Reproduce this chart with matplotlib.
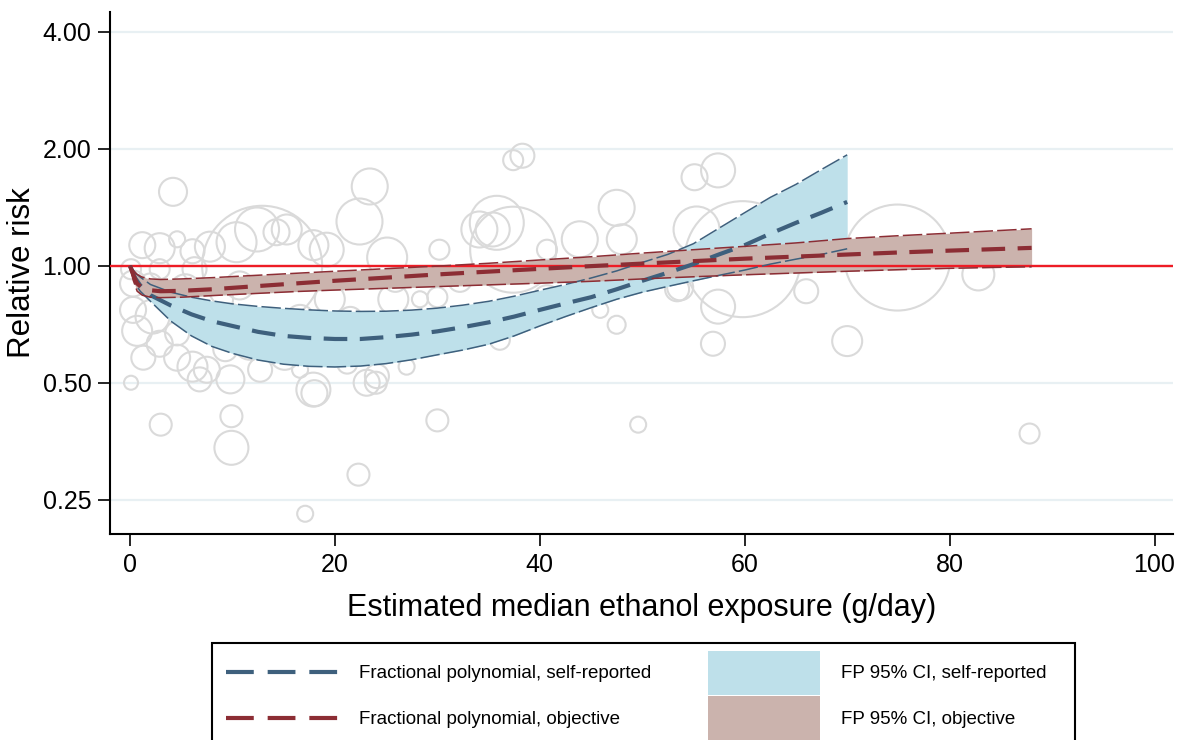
import matplotlib
matplotlib.use("Agg")
import matplotlib.pyplot as plt
from matplotlib.lines import Line2D
from matplotlib.patches import Patch, Rectangle
from matplotlib.legend_handler import HandlerLine2D
import numpy as np

plt.rcParams['font.family'] = ['Liberation Sans', 'DejaVu Sans']
plt.rcParams['lines.scale_dashes'] = False

# ---------------- data ----------------
# study-level relative risks (bubbles): exposure, RR, study weight
study_x = [4.2, 1.2, 2.9, 4.6, 6.1, 7.8, 10.4, 12.4, 14.3, 0.3, 0.3, 0.7, 2.2, 2.9, 4.6,
           6.1, 1.3, 4.6, 0.1, 7.5, 12.9, 15.3, 17.9, 25.1, 23.1, 23.4, 22.4, 19.2, 25.7,
           24.1, 27.0, 30.0, 21.2, 16.6, 17.9, 0.1, 2.0, 5.4, 8.3, 10.7, 9.8, 11.7, 9.3,
           13.7, 15.1, 12.7, 9.8, 6.8, 19.5, 21.5, 16.6, 2.9, 6.3, 19.5, 27.3, 25.9, 28.3,
           3.0, 9.9, 9.9, 22.3, 17.1, 30.0, 49.6, 18.0, 24.0, 87.8,
           37.4, 38.3, 47.5, 48.0, 43.9, 40.7, 35.8, 35.4, 37.4, 53.4, 38.7, 36.1, 47.5,
           34.1, 55.1, 57.4, 55.3, 59.8, 74.9, 70.0, 56.9, 82.8, 66.0, 57.4, 40.7, 45.9,
           32.2, 30.2, 53.7]
study_rr = [1.55, 1.13, 1.11, 1.17, 1.09, 1.12, 1.15, 1.24, 1.22, 0.90, 0.77, 0.68, 0.74, 0.63, 0.58,
            0.55, 0.58, 0.67, 0.50, 0.54, 1.00, 1.24, 1.13, 1.05, 0.50, 1.60, 1.30, 1.10, 0.82,
            0.52, 0.55, 0.83, 0.56, 0.54, 0.48, 0.98, 0.89, 0.87, 0.82, 0.89, 0.73, 0.63, 0.61,
            0.68, 0.59, 0.54, 0.51, 0.51, 0.82, 0.73, 0.73, 0.98, 0.98, 0.64, 0.68, 0.92, 0.82,
            0.39, 0.41, 0.34, 0.29, 0.23, 0.40, 0.39, 0.47, 0.50, 0.37,
            1.87, 1.92, 1.41, 1.17, 1.17, 1.10, 1.29, 1.24, 1.10, 0.87, 0.76, 0.645, 0.705,
            1.24, 1.69, 1.76, 1.24, 1.04, 1.05, 0.64, 0.63, 0.95, 0.86, 0.785, 0.82, 0.77,
            0.92, 1.10, 0.88]
study_weight = [14, 13, 15, 8, 12, 15, 20, 22, 13, 13, 13, 15, 17, 13, 13,
                15, 12, 12, 7, 13, 60, 15, 15, 20, 13, 18, 23, 17, 15,
                12, 8, 10, 10, 8, 17, 10, 12, 15, 18, 14, 15, 16, 12,
                14, 15, 12, 14, 12, 15, 12, 14, 10, 12, 10, 10, 12, 8,
                11, 11, 17, 11, 8, 11, 8, 13, 11, 10,
                10, 12, 18, 15, 18, 10, 27, 17, 43, 12, 12, 10, 9,
                18, 13, 17, 23, 58, 53, 15, 12, 16, 12, 17, 14, 8,
                12, 10, 13]

# fractional polynomial, self-reported exposure
sr_x = [0, 0.5, 1, 2, 4, 6, 8, 10, 12.5, 15, 17.5, 20, 22.5, 25, 27.5, 30, 32.5, 35,
        37.5, 40, 42.5, 45, 47.5, 50, 52.5, 55, 57.5, 60, 62.5, 65, 67.5, 70]
sr_fit = [1.0, 0.93, 0.89, 0.84, 0.79, 0.75, 0.72, 0.70, 0.676, 0.66, 0.652, 0.648, 0.648,
          0.655, 0.665, 0.678, 0.695, 0.715, 0.74, 0.77, 0.80, 0.83, 0.87, 0.915, 0.96,
          1.01, 1.07, 1.13, 1.21, 1.29, 1.37, 1.46]
sr_hi = [1.0, 0.96, 0.935, 0.895, 0.855, 0.83, 0.812, 0.798, 0.786, 0.777, 0.77, 0.765,
         0.763, 0.764, 0.769, 0.778, 0.792, 0.81, 0.835, 0.865, 0.895, 0.93, 0.97, 1.02,
         1.07, 1.14, 1.25, 1.37, 1.50, 1.62, 1.77, 1.93]
sr_lo = [1.0, 0.90, 0.86, 0.81, 0.72, 0.66, 0.62, 0.595, 0.572, 0.558, 0.551, 0.549,
         0.552, 0.56, 0.573, 0.59, 0.607, 0.628, 0.66, 0.70, 0.74, 0.78, 0.82, 0.855,
         0.885, 0.915, 0.945, 0.975, 1.01, 1.04, 1.07, 1.106]

# fractional polynomial, objective exposure
ob_x = [0, 0.3, 0.7, 1.2, 2, 3, 5, 8, 12, 16, 20, 25, 30, 35, 40, 45, 50, 55, 60, 65,
        70, 75, 80, 85, 88]
ob_fit = [1.0, 0.95, 0.90, 0.877, 0.865, 0.86, 0.862, 0.87, 0.885, 0.90, 0.915, 0.932,
          0.95, 0.966, 0.982, 0.998, 1.013, 1.028, 1.043, 1.056, 1.069, 1.082, 1.094,
          1.105, 1.112]
ob_hi = [1.0, 0.975, 0.95, 0.935, 0.925, 0.922, 0.925, 0.932, 0.944, 0.956, 0.968, 0.983,
         0.998, 1.015, 1.035, 1.055, 1.078, 1.10, 1.122, 1.145, 1.175, 1.195, 1.213,
         1.233, 1.245]
ob_lo = [1.0, 0.92, 0.86, 0.84, 0.83, 0.828, 0.83, 0.838, 0.848, 0.858, 0.866, 0.875,
         0.884, 0.893, 0.902, 0.912, 0.925, 0.937, 0.948, 0.958, 0.968, 0.977, 0.985,
         0.991, 0.994]

x_ticks = [0, 20, 40, 60, 80, 100]
y_ticks = [0.25, 0.5, 1.0, 2.0, 4.0]
labels = ["Fractional polynomial, self-reported", "Fractional polynomial, objective",
          "FP 95% CI, self-reported", "FP 95% CI, objective"]

# ---------------- style ----------------
blue = '#3e607d'
blue_fill = '#bee0ea'
red = '#8c2d34'
red_fill = '#cbb3ad'
ref_red = '#ee1c25'
bubble = '#dadada'
grid = '#e8f0f3'

fig = plt.figure(figsize=(11.84, 7.40), dpi=100)
ax = fig.add_axes([110 / 1184, 1 - 534 / 740, (1173 - 110) / 1184, (534 - 12) / 740])

ax.set_yscale('log', base=2)
ax.set_xlim(-1.95, 101.8)
ax.set_ylim(0.204, 4.5)

for yv in y_ticks:
    ax.axhline(yv, color=grid, lw=1.6, zorder=0)

sizes = [(1.44 * w) ** 2 for w in study_weight]
ax.scatter(study_x, study_rr, s=sizes, facecolors='none', edgecolors=bubble,
           linewidths=1.5, zorder=1)

ax.fill_between(sr_x, sr_lo, sr_hi, color=blue_fill, lw=0, zorder=2)
ax.fill_between(ob_x, ob_lo, ob_hi, color=red_fill, lw=0, zorder=3)

ax.axhline(1.0, color=ref_red, lw=1.7, zorder=4)

thin_dash = (0, (14, 3))
thick_dash = (0, (17, 9))
ax.plot(sr_x, sr_hi, color=blue, lw=1.1, linestyle=thin_dash, zorder=5)
ax.plot(sr_x, sr_lo, color=blue, lw=1.1, linestyle=thin_dash, zorder=5)
ax.plot(sr_x, sr_fit, color=blue, lw=3.0, linestyle=thick_dash, zorder=6)
ax.plot(ob_x, ob_hi, color=red, lw=1.1, linestyle=thin_dash, zorder=6)
ax.plot(ob_x, ob_lo, color=red, lw=1.1, linestyle=thin_dash, zorder=6)
ax.plot(ob_x, ob_fit, color=red, lw=3.0, linestyle=thick_dash, zorder=7)

ax.set_xticks(x_ticks)
ax.set_xticklabels([str(v) for v in x_ticks])
ax.set_yticks(y_ticks)
ax.set_yticklabels(['%.2f' % v for v in y_ticks])
ax.minorticks_off()
ax.tick_params(axis='both', labelsize=18, length=8.5, width=1.2, pad=5, color='black')

for side in ['top', 'right']:
    ax.spines[side].set_visible(False)
for side in ['left', 'bottom']:
    ax.spines[side].set_linewidth(1.5)

ax.set_xlabel('Estimated median ethanol exposure (g/day)', fontsize=22, labelpad=12)
ax.set_ylabel('Relative risk', fontsize=22.5, labelpad=4)


class LoweredLine(HandlerLine2D):
    """Legend line sample placed level with its label text."""
    def create_artists(self, legend, orig_handle, xdescent, ydescent, width, height,
                       fontsize, trans):
        artists = super().create_artists(legend, orig_handle, xdescent, ydescent,
                                         width, height, fontsize, trans)
        for a in artists:
            a.set_ydata(np.asarray(a.get_ydata()) - 5.5)
        return artists


# legend: frame drawn as its own box (it runs past the bottom of the figure)
fig.add_artist(Rectangle((212 / 1184, -0.05), (1075 - 212) / 1184, 0.05 + 1 - 643 / 740,
                         transform=fig.transFigure, facecolor='white',
                         edgecolor='black', lw=1.5, zorder=0))
line_self = Line2D([], [], color=blue, lw=3.0, linestyle=(0, (20, 10)))
line_obj = Line2D([], [], color=red, lw=3.0, linestyle=(0, (20, 10)))
handles = [line_self, line_obj,
           Patch(facecolor=blue_fill, edgecolor='none'),
           Patch(facecolor=red_fill, edgecolor='none')]
leg = fig.legend(handles, labels, ncol=2, loc='upper left',
                 bbox_to_anchor=(226 / 1184, 1 - 651 / 740), frameon=False,
                 fontsize=13.5, handlelength=6.0, handleheight=3.2,
                 handletextpad=1.1, columnspacing=3.0,
                 labelspacing=0.1, borderpad=0, borderaxespad=0,
                 handler_map={Line2D: LoweredLine()})

fig.savefig('out.png', dpi=100)
